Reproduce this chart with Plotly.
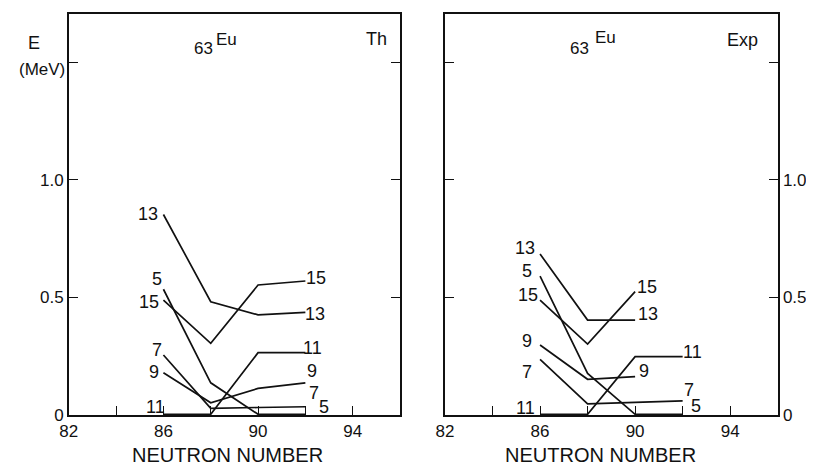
import plotly.graph_objects as go

# ---------------- data ----------------
neutron = [86, 88, 90, 92]
spin_labels = ["5", "7", "9", "11", "13", "15"]

# Theory (Th) panel, energies in MeV
th_5 = [0.535, 0.137, 0.003, 0.003]
th_7 = [0.255, 0.028, 0.032, 0.035]
th_9 = [0.180, 0.052, 0.113, 0.137]
th_11 = [0.003, 0.003, 0.265, 0.265]
th_13 = [0.853, 0.482, 0.426, 0.437]
th_15 = [0.489, 0.305, 0.553, 0.570]

# Experiment (Exp) panel, energies in MeV
exp_5 = [0.591, 0.177, 0.003, 0.003]
exp_7 = [0.237, 0.047, 0.054, 0.060]
exp_9 = [0.298, 0.152, 0.163, None]
exp_11 = [0.003, 0.003, 0.248, 0.248]
exp_13 = [0.685, 0.404, 0.404, None]
exp_15 = [0.489, 0.302, 0.525, None]

x_tickvals = [82, 84, 86, 88, 90, 92, 94]
x_ticktext = ["82", "", "86", "", "90", "", "94"]
y_tickvals = [0, 0.5, 1.0, 1.5]
y_ticktext = ["0", "0.5", "1.0", ""]

# label anchor points (data coords)
th_left_lab = {"13": (85.36, 0.857), "5": (85.74, 0.579), "15": (85.40, 0.481),
               "7": (85.74, 0.277), "9": (85.61, 0.183), "11": (85.66, 0.034)}
th_right_lab = {"15": (92.44, 0.583), "13": (92.39, 0.430), "11": (92.32, 0.285),
                "9": (92.26, 0.187), "7": (92.35, 0.094), "5": (92.77, 0.034)}
exp_left_lab = {"13": (85.37, 0.711), "5": (85.45, 0.613), "15": (85.49, 0.511),
                "9": (85.45, 0.315), "7": (85.45, 0.183), "11": (85.40, 0.030)}
exp_right_lab = {"15": (90.50, 0.545), "13": (90.54, 0.430), "9": (90.38, 0.187),
                 "11": (92.40, 0.268), "7": (92.27, 0.106), "5": (92.56, 0.038)}

FONT = "Liberation Sans"
INK = "#111111"

# the page body has an 8 px margin; size the figure so it fits the window
OFF = 8
W, H = 814 - OFF, 467 - OFF

th_series = [th_5, th_7, th_9, th_11, th_13, th_15]
exp_series = [exp_5, exp_7, exp_9, exp_11, exp_13, exp_15]

fig = go.Figure()
for name, ys in zip(spin_labels, th_series):
    fig.add_trace(go.Scatter(x=neutron, y=ys, mode="lines", name=name,
                             line=dict(color=INK, width=1.7),
                             xaxis="x", yaxis="y", showlegend=False,
                             connectgaps=False, cliponaxis=False))
for name, ys in zip(spin_labels, exp_series):
    fig.add_trace(go.Scatter(x=neutron, y=ys, mode="lines", name=name,
                             line=dict(color=INK, width=1.7),
                             xaxis="x2", yaxis="y2", showlegend=False,
                             connectgaps=False, cliponaxis=False))

axis_common = dict(showline=True, linecolor=INK, linewidth=1.6, showgrid=False,
                   zeroline=False, ticks="inside", ticklen=9, tickwidth=1.3,
                   tickcolor=INK, automargin=False,
                   tickfont=dict(family=FONT, size=17, color=INK))

xr = [82, 96]
yr = [0, 1.706]


def dx(px):
    return (px - OFF) / W


def dy(py):
    return 1 - (py - OFF) / H


fig.update_layout(
    width=W, height=H,
    margin=dict(l=0, r=0, t=0, b=0, pad=0),
    paper_bgcolor="white", plot_bgcolor="white",
    xaxis=dict(domain=[dx(68.8), dx(400)], range=xr, anchor="y", mirror=True,
               tickvals=x_tickvals, ticktext=x_ticktext, **axis_common),
    yaxis=dict(domain=[dy(415), dy(14)], range=yr, anchor="x", mirror="ticks",
               tickvals=y_tickvals, ticktext=y_ticktext, side="left", **axis_common),
    xaxis2=dict(domain=[dx(445), dx(777.7)], range=xr, anchor="y2", mirror=True,
                tickvals=x_tickvals, ticktext=x_ticktext, **axis_common),
    yaxis2=dict(domain=[dy(415), dy(14)], range=yr, anchor="x2", mirror="ticks",
                tickvals=y_tickvals, ticktext=y_ticktext, side="right", **axis_common),
)

annotations = []
lab_font = dict(family=FONT, size=18, color=INK)


def add_labels(d, xref, yref):
    for txt, (ax, ay) in d.items():
        annotations.append(dict(x=ax, y=ay, xref=xref, yref=yref, text=txt,
                                showarrow=False, xanchor="center", yanchor="middle",
                                font=lab_font))


add_labels(th_left_lab, "x", "y")
add_labels(th_right_lab, "x", "y")
add_labels(exp_left_lab, "x2", "y2")
add_labels(exp_right_lab, "x2", "y2")


def px_note(text, px, py, size=18, yanchor="middle"):
    annotations.append(dict(x=dx(px), y=dy(py), xref="paper", yref="paper",
                            text=text, showarrow=False, xanchor="center",
                            yanchor=yanchor, borderpad=0,
                            font=dict(family=FONT, size=size, color=INK)))


px_note("E", 34, 43)
px_note("(MeV)", 42, 69, 17)
px_note("63", 203, 49, 17)
px_note("Eu", 226, 39, 17)
px_note("Th", 376, 39)
px_note("63", 579, 48, 17)
px_note("Eu", 605, 38, 17)
px_note("Exp", 742, 40)
px_note("NEUTRON NUMBER", 227, 467, 20, "bottom")
px_note("NEUTRON NUMBER", 600, 467, 20, "bottom")

fig.update_layout(annotations=annotations)
fig.write_html("out.html")
